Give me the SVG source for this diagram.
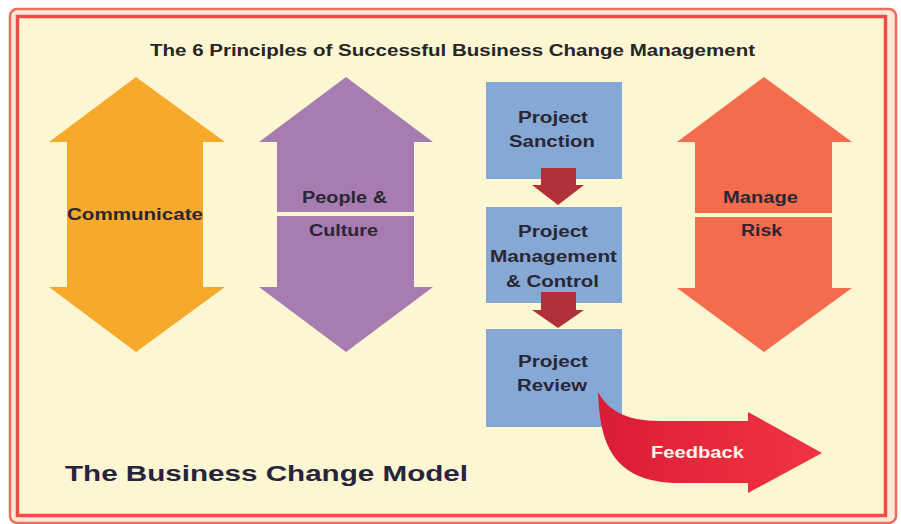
<svg xmlns="http://www.w3.org/2000/svg" width="901" height="524" viewBox="0 0 901 524">
  <defs>
    <style>
      .lbl { font-family: "Liberation Sans", Arial, sans-serif; font-weight: bold; font-size: 16px; fill: #2a2633; text-anchor: middle; }
      .gap { fill: #fcf7d2; }
      .box { fill: #86a8d5; }
      .step { fill: #b2303a; }
    </style>
    <linearGradient id="fbGrad" x1="0" y1="0" x2="1" y2="0">
      <stop offset="0" stop-color="#d91c36"/>
      <stop offset="0.5" stop-color="#e8283c"/>
      <stop offset="1" stop-color="#ef3443"/>
    </linearGradient>
  </defs>

  <!-- page and double frame -->
  <rect x="0" y="0" width="901" height="524" fill="#ffffff"/>
  <rect x="10" y="9" width="886" height="514" rx="7" fill="#fde8da" stroke="#f06b5c" stroke-width="2.5"/>
  <rect x="17.5" y="16.5" width="868" height="499" fill="#fcf7d2" stroke="#ee4c44" stroke-width="3.5"/>

  <!-- heading -->
  <text x="452.5" y="56" class="lbl" textLength="605" lengthAdjust="spacingAndGlyphs" style="fill:#262626">The 6 Principles of Successful Business Change Management</text>

  <!-- principle: communicate -->
  <g id="communicate">
    <polygon points="136,77 225,142 203,142 203,287 225,287 136,352 49,287 67,287 67,142 49,142" fill="#f6aa2c"/>
    <text x="135" y="220" class="lbl" textLength="136" lengthAdjust="spacingAndGlyphs">Communicate</text>
  </g>

  <!-- principle: people & culture -->
  <g id="people-culture">
    <polygon points="346,77 433,142 414,142 414,287 433,287 346,352 259,287 277,287 277,142 259,142" fill="#a77cb0"/>
    <rect x="277" y="212" width="137" height="4" class="gap"/>
    <text x="344.5" y="203" class="lbl" textLength="85" lengthAdjust="spacingAndGlyphs">People &amp;</text>
    <text x="343.5" y="236" class="lbl" textLength="69" lengthAdjust="spacingAndGlyphs">Culture</text>
  </g>

  <!-- principle: manage risk -->
  <g id="manage-risk">
    <polygon points="764,77 852,142 832,142 832,288 852,288 764,352 677,288 695,288 695,142 677,142" fill="#f56b4d"/>
    <rect x="695" y="213" width="137" height="4" class="gap"/>
    <text x="760.5" y="203" class="lbl" textLength="75" lengthAdjust="spacingAndGlyphs">Manage</text>
    <text x="761.5" y="236" class="lbl" textLength="41" lengthAdjust="spacingAndGlyphs">Risk</text>
  </g>

  <!-- project lifecycle boxes -->
  <g id="project-sanction">
    <rect x="486" y="82" width="136" height="97" class="box"/>
    <text x="553" y="123" class="lbl" textLength="70" lengthAdjust="spacingAndGlyphs">Project</text>
    <text x="552" y="147" class="lbl" textLength="86" lengthAdjust="spacingAndGlyphs">Sanction</text>
  </g>

  <g id="project-management">
    <rect x="486" y="207" width="136" height="96" class="box"/>
    <text x="553" y="237" class="lbl" textLength="70" lengthAdjust="spacingAndGlyphs">Project</text>
    <text x="553.5" y="262" class="lbl" textLength="127" lengthAdjust="spacingAndGlyphs">Management</text>
    <text x="552.5" y="287" class="lbl" textLength="93" lengthAdjust="spacingAndGlyphs">&amp; Control</text>
  </g>

  <g id="project-review">
    <rect x="486" y="329" width="136" height="98" class="box"/>
    <text x="553" y="367" class="lbl" textLength="70" lengthAdjust="spacingAndGlyphs">Project</text>
    <text x="552" y="391" class="lbl" textLength="70" lengthAdjust="spacingAndGlyphs">Review</text>
  </g>

  <!-- step connectors between lifecycle boxes -->
  <g id="connectors">
    <polygon points="541,168 576,168 576,185 584,185 558,205 532,185 541,185" class="step"/>
    <polygon points="541,292 576,292 576,310 584,310 558,328 532,310 541,310" class="step"/>
  </g>

  <!-- feedback loop arrow -->
  <g id="feedback">
    <path d="M598,392 C608,410 625,421 660,421 L748,421 L748,412 L822,453 L748,493 L748,483 L680,483 C610,483 600,440 598,392 Z" fill="url(#fbGrad)"/>
    <text x="697.5" y="458" class="lbl" textLength="93" lengthAdjust="spacingAndGlyphs" style="fill:#fff6ec">Feedback</text>
  </g>

  <!-- model caption -->
  <text x="266.5" y="481" class="lbl" textLength="403" lengthAdjust="spacingAndGlyphs" style="font-size:22px;fill:#26243f">The Business Change Model</text>
</svg>
